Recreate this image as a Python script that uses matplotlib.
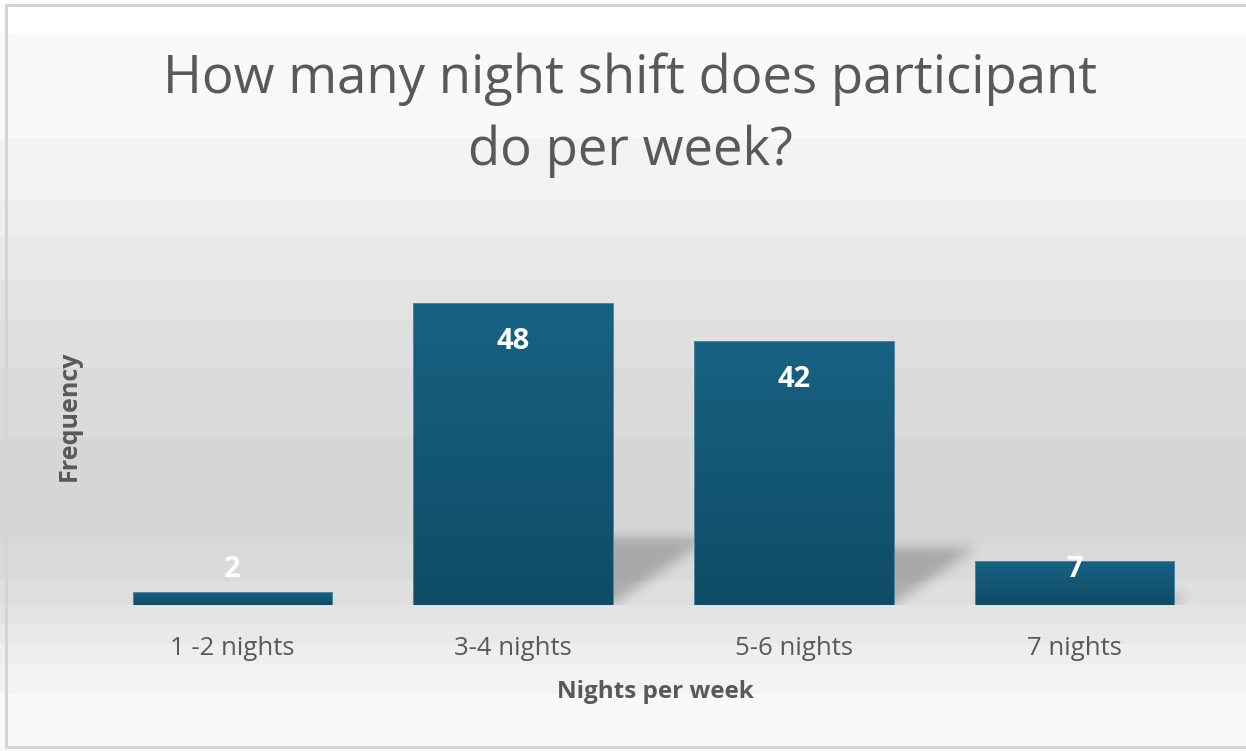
import numpy as np
import matplotlib
matplotlib.use("Agg")
import matplotlib.pyplot as plt
from matplotlib.lines import Line2D
from matplotlib.colors import LinearSegmentedColormap

# survey answers: night shifts worked per week
categories = ["1 -2 nights", "3-4 nights", "5-6 nights", "7 nights"]
counts = [2, 48, 42, 7]

TITLE = "How many night shift does participant\ndo per week?"
XLABEL = "Nights per week"
YLABEL = "Frequency"

TEXT = "#595959"
BAR_TOP = "#186283"
BAR_BOTTOM = "#0f4c65"
FONT = "Open Sans"

W, H = 1246, 751
plt.rcParams["font.family"] = [FONT, "DejaVu Sans"]

fig = plt.figure(figsize=(W / 100, H / 100), dpi=100)

# background: banded gray gradient (pixel rows from the top, gray level)
bands = [(0, 255), (33, 249), (139, 243), (201, 238), (237, 233), (280, 228),
         (320, 223), (368, 218), (438, 214), (543, 218), (581, 223), (605, 228),
         (624, 233), (644, 238), (665, 243), (694, 249)]
rows = np.zeros(H)
for start, level in bands:
    rows[start:] = level / 255.0
bg = fig.add_axes([0, 0, 1, 1], zorder=0)
bg.imshow(np.repeat(rows[:, None], 4, axis=1), cmap="gray", vmin=0, vmax=1,
          aspect="auto", extent=[0, W, H, 0], interpolation="nearest")
bg.set_xlim(0, W)
bg.set_ylim(H, 0)
bg.axis("off")

# outer frame on the left, top and bottom (figure pixel coordinates)
def frame_line(xs, ys):
    fig.add_artist(Line2D([v / W for v in xs], [1 - v / H for v in ys],
                          transform=fig.transFigure, color="#d4d4d4", lw=2.2,
                          solid_capstyle="butt", zorder=0.5))

frame_line([6, W], [5, 5])
frame_line([6, W], [747, 747])
frame_line([6, 6], [4, 748])

# plot area
left_px, right_px, base_px = 92, 1215, 605
ymax = 60
unit_px = 302 / 48
ax = fig.add_axes([left_px / W, 1 - base_px / H, (right_px - left_px) / W,
                   ymax * unit_px / H], zorder=1)
ax.patch.set_alpha(0)
x = np.arange(len(categories))
bar_w = 0.71

# soft perspective shadows cast up and to the right of each bar
nx, ny = right_px - left_px, int(ymax * unit_px)
gx = np.linspace(-0.5, len(categories) - 0.5, nx)
gy = np.linspace(0, ymax, ny)
XX, YY = np.meshgrid(gx, gy)
mask = np.zeros_like(XX)
for xi, v in zip(x, counts):
    hs = 0.22 * v
    shift = 0.0325 * hs
    t = np.clip(YY / hs, 0, 1)
    inside = (YY <= hs) & (XX >= xi - bar_w / 2 + t * shift) & (XX <= xi + bar_w / 2 + t * shift)
    mask[inside] = 1.0
k = np.exp(-0.5 * (np.arange(-18, 19) / 6.0) ** 2)
k /= k.sum()
mask = np.apply_along_axis(lambda r: np.convolve(r, k, mode="same"), 1, mask)
mask = np.apply_along_axis(lambda c: np.convolve(c, k, mode="same"), 0, mask)
shadow = np.zeros((ny, nx, 4))
shadow[..., 3] = 0.23 * mask
ax.imshow(shadow, origin="lower", aspect="auto", zorder=1,
          extent=[-0.5, len(categories) - 0.5, 0, ymax])

# bars with a vertical gradient fill
cmap = LinearSegmentedColormap.from_list("bar", [BAR_BOTTOM, BAR_TOP])
grad = np.linspace(0, 1, 256)[:, None]
bars = ax.bar(x, counts, width=bar_w, color="none", edgecolor="#4f86a0",
              linewidth=0.7, zorder=3)
for b in bars:
    im = ax.imshow(grad, cmap=cmap, origin="lower", aspect="auto", zorder=2,
                   extent=[b.get_x(), b.get_x() + b.get_width(), 0, b.get_height()])
    im.set_clip_path(b)

# value labels just inside the bar top, kept readable on short bars
for xi, v in zip(x, counts):
    ax.text(xi, max(v - 6.1, 5.6), str(v), ha="center", va="center",
            color="white", fontsize=21, fontweight="bold", zorder=4)

ax.set_xlim(-0.5, len(categories) - 0.5)
ax.set_ylim(0, ymax)
ax.set_xticks(x)
ax.set_xticklabels(categories, fontsize=18.5, color=TEXT)
ax.tick_params(axis="x", length=0, pad=22)
ax.set_yticks([])
for s in ax.spines.values():
    s.set_visible(False)

fig.text(630 / W, 1 - 115 / H, TITLE, ha="center", va="center", fontsize=38,
         color=TEXT, linespacing=1.45)
fig.text(655 / W, 1 - 692 / H, XLABEL, ha="center", va="center", fontsize=17.5,
         fontweight="bold", color=TEXT)
fig.text(69 / W, 1 - 416 / H, YLABEL, ha="center", va="center", fontsize=18,
         fontweight="bold", color=TEXT, rotation=90)

fig.savefig("out.png", dpi=100)
